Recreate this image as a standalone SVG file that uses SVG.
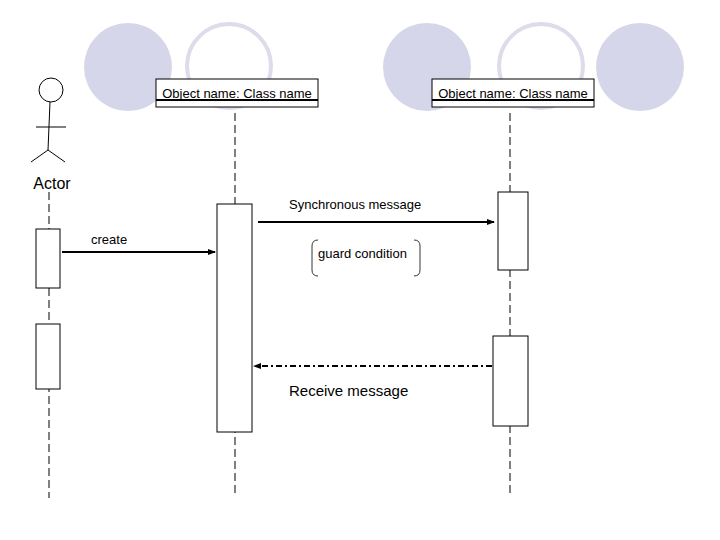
<svg xmlns="http://www.w3.org/2000/svg" width="720" height="540" viewBox="0 0 720 540">
<style>
.t{font-family:"Liberation Sans",Arial,sans-serif;fill:#000}
.b{fill:#fff;stroke:#000;stroke-width:1}
.ll{stroke:#000;stroke-dasharray:8,4;fill:none}
.fc{fill:#d6d6ea}
.rc{fill:none;stroke:#dcdcea;stroke-width:4}
</style>
<defs>
<marker id="ah" markerWidth="8" markerHeight="6" refX="7" refY="3" orient="auto" markerUnits="userSpaceOnUse"><path d="M0,0L8,3L0,6z" fill="#000"/></marker>
</defs>
<g id="decor">
<circle class="fc" cx="128" cy="67" r="44"/>
<circle class="rc" cx="229" cy="66" r="42"/>
<circle class="fc" cx="427" cy="67" r="44"/>
<circle class="rc" cx="541" cy="66" r="42"/>
<circle class="fc" cx="640" cy="67" r="44"/>
</g>
<g id="lifelines">
<line class="ll" x1="49" y1="192" x2="49" y2="498"/>
<line class="ll" x1="235" y1="113" x2="235" y2="495"/>
<line class="ll" x1="510" y1="113" x2="510" y2="495"/>
</g>
<g id="actor">
<circle cx="51" cy="90" r="12" fill="#fff" stroke="#000"/>
<path d="M50,102L48,150M36,127H66M48,150L31,162M48,150L65,162" stroke="#000" fill="none"/>
<text class="t" x="52" y="189" font-size="16" text-anchor="middle">Actor</text>
</g>
<g id="obj1">
<rect class="b" x="156" y="79" width="162" height="28"/>
<line x1="156" y1="100" x2="318" y2="100" stroke="#000" stroke-width="2"/>
<text class="t" x="237" y="98" font-size="13" text-anchor="middle" text-decoration="underline">Object name: Class name</text>
</g>
<g id="obj2">
<rect class="b" x="432" y="79" width="162" height="28"/>
<line x1="432" y1="100" x2="594" y2="100" stroke="#000" stroke-width="2"/>
<text class="t" x="513" y="98" font-size="13" text-anchor="middle" text-decoration="underline">Object name: Class name</text>
</g>
<g id="activations">
<rect class="b" x="36" y="229" width="24" height="59"/>
<rect class="b" x="36" y="324" width="24" height="65"/>
<rect class="b" x="217" y="204" width="35" height="228"/>
<rect class="b" x="498" y="192" width="30" height="78"/>
<rect class="b" x="493" y="336" width="35" height="90"/>
</g>
<g id="connectors">
<line x1="62" y1="252" x2="215" y2="252" stroke="#000" stroke-width="2" marker-end="url(#ah)"/>
<line x1="258" y1="222" x2="494" y2="222" stroke="#000" stroke-width="2" marker-end="url(#ah)"/>
<line x1="492" y1="366" x2="254" y2="366" stroke="#000" stroke-width="2" stroke-dasharray="6,3,2,3" marker-end="url(#ah)"/>
</g>
<g id="labels">
<text class="t" x="91" y="244" font-size="13">create</text>
<text class="t" x="289" y="209" font-size="13">Synchronous message</text>
<text class="t" x="318" y="258" font-size="13">guard condition</text>
<path d="M318,240Q312,240 312,246V270Q312,276 318,276M414,240Q420,240 420,246V270Q420,276 414,276" stroke="#000" fill="none" stroke-width="0.8"/>
<text class="t" x="289" y="396" font-size="15">Receive message</text>
</g>
</svg>
